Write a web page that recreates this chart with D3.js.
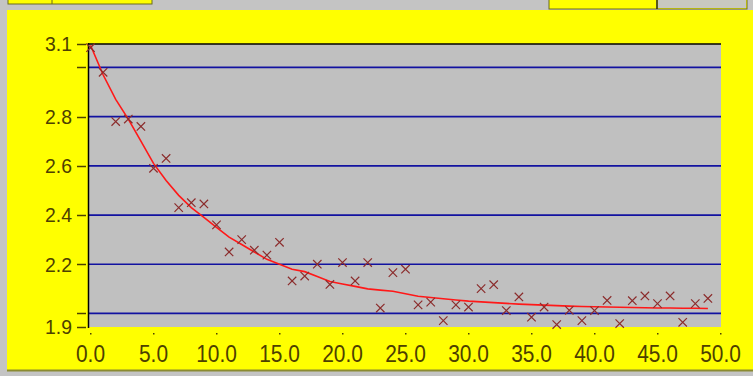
<!DOCTYPE html>
<html>
<head>
<meta charset="utf-8">
<script src="https://cdn.jsdelivr.net/npm/d3@7"></script>
<style>
  html, body { margin: 0; padding: 0; background: #c4c4c4; }
  svg { display: block; }
  text { font-family: "Liberation Sans", Arial, sans-serif; }
</style>
</head>
<body>
<svg width="753" height="376"></svg>
<script>
// sample index (x) and measured values
var sampleX = [0, 1, 2, 3, 4, 5, 6, 7, 8, 9, 10, 11, 12, 13, 14, 15, 16, 17, 18, 19,
	20, 21, 22, 23, 24, 25, 26, 27, 28, 29, 30, 31, 32, 33, 34, 35, 36, 37, 38, 39,
	40, 41, 42, 43, 44, 45, 46, 47, 48, 49];
var measured = [3.08, 2.98, 2.78, 2.79, 2.76, 2.59, 2.63, 2.43, 2.45, 2.445,
	2.36, 2.25, 2.30, 2.257, 2.237, 2.289, 2.132, 2.152, 2.20, 2.118,
	2.207, 2.132, 2.207, 2.022, 2.166, 2.18, 2.035, 2.046, 1.971, 2.035,
	2.026, 2.101, 2.117, 2.012, 2.067, 1.985, 2.026, 1.955, 2.013, 1.971,
	2.012, 2.053, 1.959, 2.052, 2.071, 2.04, 2.071, 1.964, 2.04, 2.061];
// fitted curve at each x
var fitted = [3.09, 2.97, 2.87, 2.79, 2.70, 2.61, 2.54, 2.48, 2.43, 2.39,
	2.35, 2.31, 2.28, 2.25, 2.22, 2.20, 2.18, 2.17, 2.15, 2.13,
	2.12, 2.11, 2.10, 2.095, 2.09, 2.08, 2.07, 2.065, 2.06, 2.055,
	2.05, 2.047, 2.044, 2.041, 2.038, 2.036, 2.034, 2.032, 2.03, 2.028,
	2.027, 2.026, 2.025, 2.024, 2.023, 2.022, 2.022, 2.021, 2.021, 2.02];

var xTicks = [0, 5, 10, 15, 20, 25, 30, 35, 40, 45, 50];
var yDomain = [1.945, 3.095];
var yTicks = [1.945, 2.0, 2.2, 2.4, 2.6, 2.8, 3.0, 3.095];
var yTickLabels = ["1.9", "", "2.2", "2.4", "2.6", "2.8", "", "3.1"];
var yGrid = [2.0, 2.2, 2.4, 2.6, 2.8, 3.0];

var svg = d3.select("svg");
var labelColor = "#4d4000";

// outer frame bits
svg.append("rect").attr("x", 0).attr("y", 0).attr("width", 753).attr("height", 376).attr("fill", "#c4c4c4");
svg.append("rect").attr("x", 8).attr("y", -2).attr("width", 144).attr("height", 6)
	.attr("fill", "#ffff00").attr("stroke", "#6b6b20").attr("stroke-width", 1);
svg.append("line").attr("x1", 52).attr("x2", 52).attr("y1", 0).attr("y2", 4).attr("stroke", "#6b6b20");
svg.append("rect").attr("x", 549).attr("y", -2).attr("width", 198).attr("height", 11)
	.attr("fill", "#ffff00").attr("stroke", "#6b6b20").attr("stroke-width", 1);
svg.append("rect").attr("x", 658).attr("y", 0).attr("width", 88).attr("height", 8).attr("fill", "#c8c8c0");
svg.append("line").attr("x1", 657).attr("x2", 657).attr("y1", 0).attr("y2", 9).attr("stroke", "#222").attr("stroke-width", 1.5);

svg.append("rect").attr("x", 7).attr("y", 10).attr("width", 746).attr("height", 360).attr("fill", "#ffff00");
svg.append("line").attr("x1", 7).attr("x2", 753).attr("y1", 370.5).attr("y2", 370.5)
	.attr("stroke", "#8a8a30").attr("stroke-width", 2);

var x = d3.scaleLinear().domain([0, 50]).range([90.5, 720.5]);
var y = d3.scaleLinear().domain(yDomain).range([327, 44]);

// plot area
svg.append("rect").attr("x", 89).attr("y", 44).attr("width", 632).attr("height", 283).attr("fill", "#c0c0c0");

svg.append("g").selectAll("line")
	.data(yGrid)
	.enter().append("line")
	.attr("x1", 89).attr("x2", 721)
	.attr("y1", d => y(d)).attr("y2", d => y(d))
	.attr("stroke", "#1212a0").attr("stroke-width", 1.7);

svg.append("line").attr("x1", 88).attr("x2", 721).attr("y1", 44).attr("y2", 44).attr("stroke", "#000").attr("stroke-width", 1.5);
svg.append("line").attr("x1", 88.5).attr("x2", 88.5).attr("y1", 43).attr("y2", 328).attr("stroke", "#000").attr("stroke-width", 1.5);

// y axis ticks + labels
var yt = svg.append("g").selectAll("g")
	.data(yTicks)
	.enter().append("g");
yt.append("line")
	.attr("x1", 77).attr("x2", 86)
	.attr("y1", d => Math.round(y(d)) + 0.5).attr("y2", d => Math.round(y(d)) + 0.5)
	.attr("stroke", labelColor).attr("stroke-width", 1.5);
yt.append("text")
	.attr("transform", d => "translate(72," + y(d) + ") scale(1.02,1.06)")
	.attr("dy", "0.36em")
	.attr("text-anchor", "end")
	.attr("font-size", 19)
	.attr("fill", labelColor)
	.text((d, i) => yTickLabels[i]);

// x axis ticks + labels
var xt = svg.append("g").selectAll("g")
	.data(xTicks)
	.enter().append("g");
xt.append("rect")
	.attr("x", d => x(d) - 0.5).attr("y", 333)
	.attr("width", 1.5).attr("height", 1.5)
	.attr("fill", labelColor);
xt.append("text")
	.attr("transform", d => "translate(" + x(d) + ",361.5) scale(1.1,1.28)")
	.attr("text-anchor", "middle")
	.attr("font-size", 19)
	.attr("fill", labelColor)
	.text(d => d.toFixed(1));

// fitted curve
var line = d3.line()
	.x((d, i) => x(sampleX[i]))
	.y(d => y(d));
svg.append("path")
	.datum(fitted)
	.attr("d", line)
	.attr("fill", "none")
	.attr("stroke", "#ff1818")
	.attr("stroke-width", 1.6);

// measured points as crosses
var s = 4.2;
svg.append("g").selectAll("path")
	.data(measured)
	.enter().append("path")
	.attr("d", (d, i) => {
		var cx = x(sampleX[i]), cy = y(d);
		return "M" + (cx - s) + "," + (cy - s) + "L" + (cx + s) + "," + (cy + s) +
			"M" + (cx - s) + "," + (cy + s) + "L" + (cx + s) + "," + (cy - s);
	})
	.attr("fill", "none")
	.attr("stroke", "#8b2c2c")
	.attr("stroke-width", 1.2);
</script>
</body>
</html>
